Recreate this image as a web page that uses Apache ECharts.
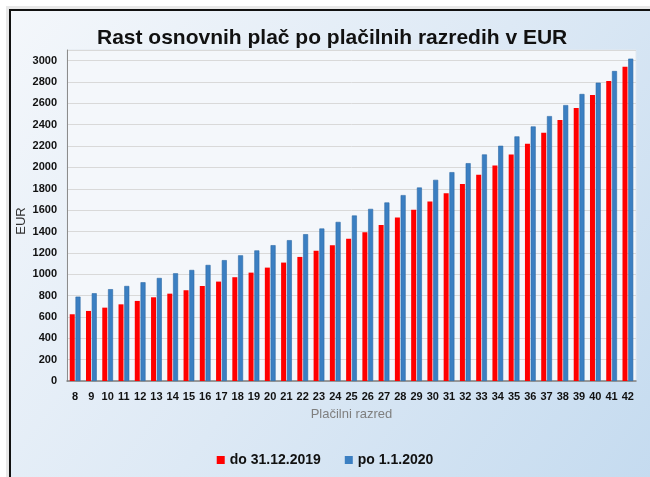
<!DOCTYPE html>
<html>
<head>
<meta charset="utf-8">
<script src="https://cdn.jsdelivr.net/npm/echarts@6/dist/echarts.min.js"></script>
<style>
html,body{margin:0;padding:0;background:#ffffff;}
#chart{width:650px;height:477px;}
</style>
</head>
<body>
<div id="chart"></div>
<script>
const categories = ['8','9','10','11','12','13','14','15','16','17','18','19','20','21','22','23','24','25','26','27','28','29','30','31','32','33','34','35','36','37','38','39','40','41','42'];
const do2019 = [625,656,687,718,750,784,818,850,890,931,972,1015,1062,1109,1162,1219,1272,1332,1394,1462,1531,1603,1680,1759,1844,1931,2019,2122,2222,2325,2444,2556,2678,2809,2944];
const po2020 = [790,822,860,890,925,965,1009,1040,1087,1132,1177,1223,1272,1319,1375,1428,1490,1550,1612,1672,1741,1812,1884,1956,2040,2122,2203,2291,2384,2481,2584,2688,2794,2903,3019];
const seriesNames = ['do 31.12.2019','po 1.1.2020'];
const titleText = 'Rast osnovnih plač po plačilnih razredih v EUR';
const yName = 'EUR';

const chart = echarts.init(document.getElementById('chart'), null, {renderer:'canvas'});
chart.setOption({
  animation:false,
  backgroundColor:'#ffffff',
  graphic:[
    {type:'rect', z:-10, shape:{x:6,y:6,width:660,height:490}, style:{fill:'#e8e8e8'}},
    {type:'rect', z:-9, shape:{x:10,y:10,width:660,height:490},
      style:{
        fill:{type:'linear',x:0,y:0,x2:1,y2:1,colorStops:[
          {offset:0,color:'#f4f7fb'},{offset:0.5,color:'#dde9f5'},{offset:1,color:'#c3daef'}]},
        stroke:'#111111', lineWidth:2
      }},
    {type:'text', x:21, y:221, rotation:Math.PI/2, z:10,
      style:{text:yName, align:'center', verticalAlign:'middle',
        font:'13px "Liberation Sans", Arial, sans-serif', fill:'#333333'}}
  ],
  title:{
    text:titleText, left:97, top:28, padding:0,
    textStyle:{fontFamily:'Liberation Sans, Arial, sans-serif', fontSize:21, fontWeight:'bold', color:'#111111'}
  },
  legend:{
    data:seriesNames, bottom:5, left:'center', itemWidth:8, itemHeight:8, itemGap:24,
    icon:'rect',
    itemStyle:{borderWidth:0},
    textStyle:{fontFamily:'Liberation Sans, Arial, sans-serif', fontSize:14, fontWeight:'bold', color:'#111111'}
  },
  grid:{left:67, right:14, top:50, bottom:96, show:true, backgroundColor:'#f4f7fb', borderColor:'#e2e8ef', borderWidth:1},
  xAxis:{
    type:'category', data:categories,
    name:'Plačilni razred', nameLocation:'middle', nameGap:27,
    nameTextStyle:{fontFamily:'Liberation Sans, Arial, sans-serif', fontSize:13, color:'#7f7f7f'},
    axisLine:{lineStyle:{color:'#7f7f7f', width:1.5}},
    axisTick:{show:false},
    axisLabel:{interval:0, margin:10, fontFamily:'Liberation Sans, Arial, sans-serif', fontSize:11, fontWeight:'bold', color:'#111111'}
  },
  yAxis:{
    type:'value', min:0, max:3100, interval:200,
    axisLine:{show:true, lineStyle:{color:'#8c8c8c'}},
    axisTick:{show:false},
    axisLabel:{showMaxLabel:false, margin:10, formatter:function(v){return String(v);}, fontFamily:'Liberation Sans, Arial, sans-serif', fontSize:11, fontWeight:'bold', color:'#111111'},
    splitLine:{lineStyle:{color:'#d9d9d9'}}
  },
  series:[
    {name:seriesNames[0], type:'bar', data:do2019, barWidth:5, barGap:'15%',
      itemStyle:{color:'#ff0000'}},
    {name:seriesNames[1], type:'bar', data:po2020, barWidth:5, barGap:'15%',
      itemStyle:{color:'#3b7fc2', borderColor:'#2e6aa6', borderWidth:0.6}}
  ]
});
</script>
</body>
</html>
